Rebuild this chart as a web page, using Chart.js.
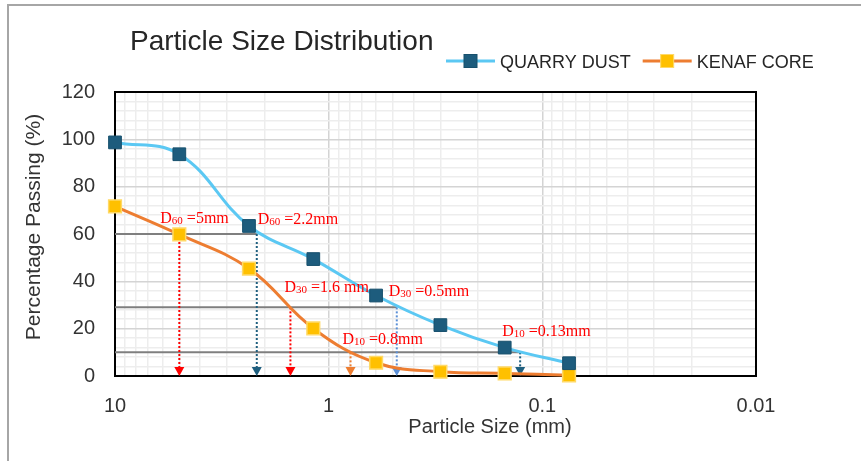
<!DOCTYPE html>
<html>
<head>
<meta charset="utf-8">
<script src="https://cdn.jsdelivr.net/npm/chart.js@4.4.1/dist/chart.umd.min.js"></script>
<style>
  html, body { margin: 0; padding: 0; background: #fff; }
  #wrap { width: 861px; height: 461px; position: relative; }
</style>
</head>
<body>
<div id="wrap"><canvas id="psdChart"></canvas></div>
<script>
// sieve sizes (mm) and % passing
var sieveSize = [10, 5, 2.36, 1.18, 0.6, 0.3, 0.15, 0.075];
var quarryDust = [98.7, 93.7, 63.4, 49.4, 34.0, 21.5, 12.0, 5.4];
var kenafCore = [71.7, 59.8, 45.4, 20.1, 5.6, 1.8, 1.1, 0.3];

// D-value arrows: size where the arrow sits and % passing where it starts
var dSize = [5, 2.17, 1.51, 0.48, 0.79, 0.127];
var dPassing = [60, 60, 29, 29, 10, 10];
var dSub = ["60", "60", "30", "30", "10", "10"];
var dText = [" =5mm", " =2.2mm", " =1.6 mm", " =0.5mm", " =0.8mm", " =0.13mm"];

// grey guide lines from the 10 mm edge across to the quarry dust D values
var guidePassing = [60, 29, 10];
var guideSize = [2.17, 0.48, 0.127];

var xTickValues = [10, 1, 0.1, 0.01];

// styles
var arrowColor = ["#FF0000", "#1F5F7F", "#FF0000", "#5B8FD6", "#ED7D31", "#1F5F7F"];
var labelOffset = [[-19, -11], [1, -10], [-6, -15], [-8, -11], [-8, -8], [-18, -16]];

function mantissa(v) {
   return v / Math.pow(10, Math.floor(Math.log10(v) + 1e-9));
}

var psdDecor = {
   id: "psdDecor",
   beforeDraw: function (chart) {
      var c = chart.ctx;
      c.save();
      c.fillStyle = "#fff";
      c.fillRect(0, 0, chart.width, chart.height);
      // outer chart frame (only top/left visible)
      c.strokeStyle = "#A6A6A6";
      c.lineWidth = 2;
      c.beginPath();
      c.moveTo(8, chart.height);
      c.lineTo(8, 5);
      c.lineTo(chart.width, 5);
      c.stroke();
      c.restore();
   },
   beforeDatasetsDraw: function (chart) {
      var c = chart.ctx;
      var xs = chart.scales.x;
      var ys = chart.scales.y;
      var a = chart.chartArea;
      c.save();
      // plot frame
      c.strokeStyle = "#000";
      c.lineWidth = 2;
      c.strokeRect(a.left, a.top, a.right - a.left, a.bottom - a.top);

      // guide lines
      c.strokeStyle = "#7F7F7F";
      c.lineWidth = 2;
      for (var i = 0; i < guidePassing.length; i++) {
         var gy = ys.getPixelForValue(guidePassing[i]);
         c.beginPath();
         c.moveTo(xs.getPixelForValue(10), gy);
         c.lineTo(xs.getPixelForValue(guideSize[i]), gy);
         c.stroke();
      }

      // dotted arrows
      for (var j = 0; j < dSize.length; j++) {
         var px = xs.getPixelForValue(dSize[j]);
         var top = ys.getPixelForValue(dPassing[j]);
         var tip = ys.getPixelForValue(0);
         c.strokeStyle = arrowColor[j];
         c.fillStyle = arrowColor[j];
         c.lineWidth = 2;
         c.setLineDash([2, 2]);
         c.beginPath();
         c.moveTo(px, top);
         c.lineTo(px, tip - 9);
         c.stroke();
         c.setLineDash([]);
         c.beginPath();
         c.moveTo(px - 5, tip - 9);
         c.lineTo(px + 5, tip - 9);
         c.lineTo(px, tip);
         c.closePath();
         c.fill();
      }
      c.restore();
   },
   afterDatasetsDraw: function (chart) {
      var c = chart.ctx;
      var xs = chart.scales.x;
      var ys = chart.scales.y;
      c.save();
      c.fillStyle = "#FF0000";
      c.textBaseline = "alphabetic";
      for (var i = 0; i < dSize.length; i++) {
         var x = xs.getPixelForValue(dSize[i]) + labelOffset[i][0];
         var y = ys.getPixelForValue(dPassing[i]) + labelOffset[i][1];
         c.font = '16px "Liberation Serif"';
         c.fillText("D", x, y);
         x += c.measureText("D").width;
         c.font = '11px "Liberation Serif"';
         c.fillText(dSub[i], x, y + 1);
         x += c.measureText(dSub[i]).width;
         c.font = '16px "Liberation Serif"';
         c.fillText(dText[i], x, y);
      }
      c.restore();
   },
   afterDraw: function (chart) {
      var c = chart.ctx;
      var ds = chart.data.datasets;
      c.save();
      c.fillStyle = "#262626";
      c.textBaseline = "alphabetic";
      c.font = '28px "Liberation Sans"';
      c.fillText("Particle Size Distribution", 130, 50);

      // legend
      c.font = '18px "Liberation Sans"';
      var lx = 446;
      var ly = 61;
      for (var i = 0; i < ds.length; i++) {
         c.strokeStyle = ds[i].borderColor;
         c.lineWidth = 3;
         c.beginPath();
         c.moveTo(lx, ly);
         c.lineTo(lx + 49, ly);
         c.stroke();
         c.fillStyle = ds[i].pointBackgroundColor;
         c.strokeStyle = ds[i].pointBorderColor;
         c.lineWidth = 1;
         c.fillRect(lx + 18, ly - 6.5, 13, 13);
         c.strokeRect(lx + 18, ly - 6.5, 13, 13);
         c.fillStyle = "#262626";
         c.fillText(ds[i].label, lx + 54, ly + 6.5);
         lx += 54 + c.measureText(ds[i].label).width + 12;
      }

      // axis titles
      c.fillStyle = "#333";
      c.font = '20px "Liberation Sans"';
      c.textAlign = "center";
      c.fillText("Particle Size (mm)", 490, 433);
      c.translate(34, 227);
      c.rotate(-Math.PI / 2);
      c.textBaseline = "middle";
      c.font = '21px "Liberation Sans"';
      c.fillText("Percentage Passing (%)", 0, 0);
      c.restore();
   }
};

var ctx = document.getElementById("psdChart").getContext("2d");

var chart = new Chart(ctx, {
   type: "line",
   data: {
      datasets: [
         {
            label: "QUARRY DUST",
            data: sieveSize.map(function (s, i) { return { x: s, y: quarryDust[i] }; }),
            borderColor: "#5BC8F3",
            borderWidth: 3,
            pointStyle: "rect",
            pointRadius: 9,
            pointBackgroundColor: "#1D5C7D",
            pointBorderColor: "#17506D",
            pointBorderWidth: 1,
            tension: 0.4,
            clip: false,
         },
         {
            label: "KENAF CORE",
            data: sieveSize.map(function (s, i) { return { x: s, y: kenafCore[i] }; }),
            borderColor: "#ED7D31",
            borderWidth: 3,
            pointStyle: "rect",
            pointRadius: 9,
            pointBackgroundColor: "#FFC000",
            pointBorderColor: "#FFD966",
            pointBorderWidth: 1.5,
            tension: 0.4,
            clip: false,
         },
      ],
   },
   options: {
      responsive: true,
      maintainAspectRatio: false,
      animation: false,
      layout: { padding: { left: 0, right: 105, top: 92, bottom: 0 } },
      plugins: {
         legend: { display: false },
         title: { display: false },
         tooltip: { enabled: false },
      },
      scales: {
         x: {
            type: "logarithmic",
            reverse: true,
            min: 0.01,
            max: 10,
            afterFit: function (s) { s.height = 85; },
            afterBuildTicks: function (s) {
               // keep only 1..9 x 10^n grid lines
               s.ticks = s.ticks.filter(function (t) {
                  var m = mantissa(t.value);
                  return Math.abs(m - Math.round(m)) < 1e-6;
               });
            },
            border: { display: false },
            grid: {
               drawTicks: false,
               lineWidth: 1.5,
               color: function (c) {
                  return Math.abs(mantissa(c.tick.value) - 1) < 1e-6 ? "#D4D4D4" : "#EDEDED";
               },
            },
            ticks: {
               autoSkip: false,
               maxRotation: 0,
               padding: 18,
               color: "#333",
               font: { family: "Liberation Sans", size: 20 },
               callback: function (v) {
                  for (var i = 0; i < xTickValues.length; i++) {
                     if (Math.abs(v - xTickValues[i]) < 1e-9) return String(xTickValues[i]);
                  }
                  return "";
               },
            },
         },
         y: {
            min: 0,
            max: 120,
            afterFit: function (s) { s.width = 115; },
            border: { display: false },
            grid: {
               drawTicks: false,
               lineWidth: 1.5,
               color: function (c) {
                  return c.tick.value % 20 === 0 ? "#D4D4D4" : "#EDEDED";
               },
            },
            ticks: {
               stepSize: 4,
               autoSkip: false,
               padding: 20,
               color: "#333",
               font: { family: "Liberation Sans", size: 20 },
               callback: function (v) {
                  return v % 20 === 0 ? v : "";
               },
            },
         },
      },
   },
   plugins: [psdDecor],
});
</script>
</body>
</html>
